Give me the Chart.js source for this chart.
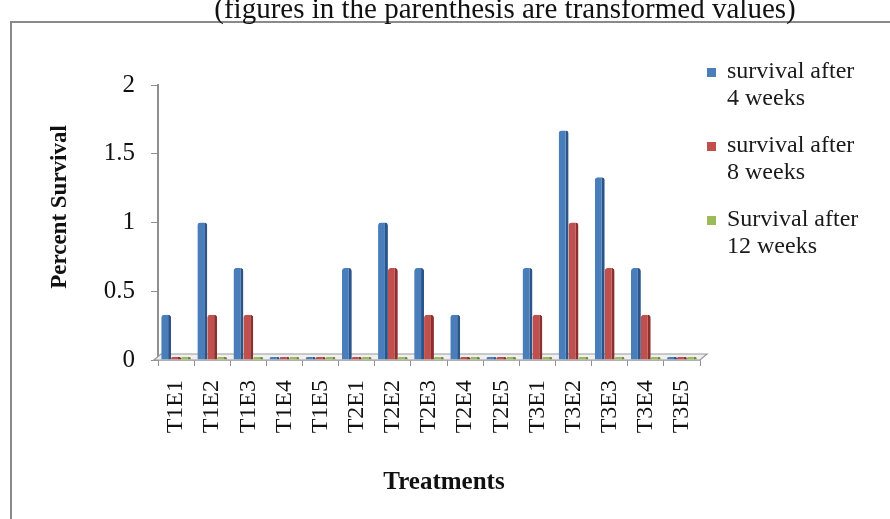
<!DOCTYPE html>
<html>
<head>
<meta charset="utf-8">
<script src="https://cdn.jsdelivr.net/npm/chart.js@4.4.1/dist/chart.umd.min.js"></script>
<style>
  html, body { margin: 0; padding: 0; background: #ffffff; }
  #wrap { width: 890px; height: 519px; position: relative; }
</style>
</head>
<body>
<div id="wrap"><canvas id="chart" width="890" height="519"></canvas></div>
<script>
// Treatment codes along the x axis
const categories = ['T1E1', 'T1E2', 'T1E3', 'T1E4', 'T1E5',
                    'T2E1', 'T2E2', 'T2E3', 'T2E4', 'T2E5',
                    'T3E1', 'T3E2', 'T3E3', 'T3E4', 'T3E5'];

// Percent survival (transformed values)
const survival4Weeks  = [0.33, 1, 0.67, 0, 0, 0.67, 1, 0.67, 0.33, 0, 0.67, 1.67, 1.33, 0.67, 0];
const survival8Weeks  = [0, 0.33, 0.33, 0, 0, 0, 0.67, 0.33, 0, 0, 0.33, 1, 0.67, 0.33, 0];
const survival12Weeks = [0, 0, 0, 0, 0, 0, 0, 0, 0, 0, 0, 0, 0, 0, 0];

// Legend entries, one line per array item
const seriesNames = [
  ['survival after', '4 weeks'],
  ['survival after', '8 weeks'],
  ['Survival after', '12 weeks']
];

const yTickValues = [0, 0.5, 1, 1.5, 2];

const chartTitle = '(figures in the parenthesis are transformed values)';
const xTitle = 'Treatments';
const yTitle = 'Percent Survival';

const SERIF = "'Liberation Serif', 'Times New Roman', serif";

const faceColors = ['#4a7ebb', '#c0504d', '#9bbb59'];
const sideColors = ['#2b5589', '#8c2f2d', '#6f8a3c'];

function barDataset(name, values, i) {
  return {
    label: name,
    data: values,
    backgroundColor: faceColors[i],
    borderColor: sideColors[i],
    borderWidth: { top: 0, left: 0, bottom: 0, right: 3 },
    borderSkipped: false,
    borderRadius: { topLeft: 3, topRight: 3, bottomLeft: 0, bottomRight: 0 },
    minBarLength: 3,
    categoryPercentage: 0.82,
    barPercentage: 1.0
  };
}

// Frame, partly cut title, axis titles, 3D-style floor and the wrapped legend
const decorations = {
  id: 'decorations',
  beforeDraw(chart) {
    const ctx = chart.ctx;
    ctx.save();
    ctx.fillStyle = '#ffffff';
    ctx.fillRect(0, 0, chart.width, chart.height);
    ctx.strokeStyle = '#8a8a8a';
    ctx.lineWidth = 2;
    ctx.strokeRect(11, 22, chart.width + 20, chart.height + 20);
    ctx.fillStyle = '#111111';
    ctx.font = `29px ${SERIF}`;
    ctx.textAlign = 'center';
    ctx.textBaseline = 'alphabetic';
    ctx.fillText(chartTitle, 505, 18);

    // axis titles
    ctx.font = `bold 25px ${SERIF}`;
    ctx.textBaseline = 'middle';
    ctx.fillText(xTitle, 444, 483);
    ctx.translate(60, 207);
    ctx.rotate(-Math.PI / 2);
    ctx.font = `bold 23px ${SERIF}`;
    ctx.fillText(yTitle, 0, 0);
    ctx.restore();
  },
  beforeDatasetsDraw(chart) {
    const { ctx, chartArea } = chart;
    const l = chartArea.left, r = chartArea.right, b = chartArea.bottom;
    ctx.save();
    ctx.beginPath();
    ctx.moveTo(l - 4, b);
    ctx.lineTo(r, b);
    ctx.lineTo(r + 7, b - 6);
    ctx.lineTo(l + 3, b - 6);
    ctx.closePath();
    ctx.fillStyle = '#f0f0f0';
    ctx.fill();
    ctx.strokeStyle = '#9a9a9a';
    ctx.lineWidth = 1.2;
    ctx.stroke();
    ctx.restore();
  },
  afterDraw(chart) {
    const ctx = chart.ctx;
    ctx.save();
    ctx.font = `24px ${SERIF}`;
    ctx.textAlign = 'left';
    ctx.textBaseline = 'middle';
    chart.data.datasets.forEach((ds, i) => {
      const y0 = 72 + i * 74;
      ctx.fillStyle = ds.backgroundColor;
      ctx.fillRect(707, y0 - 4, 9, 9);
      ctx.fillStyle = '#1a1a1a';
      ds.label.forEach((line, j) => {
        ctx.fillText(line, 727, y0 + j * 26.5);
      });
    });
    ctx.restore();
  }
};

new Chart(document.getElementById('chart'), {
  type: 'bar',
  data: {
    labels: categories,
    datasets: [
      barDataset(seriesNames[0], survival4Weeks, 0),
      barDataset(seriesNames[1], survival8Weeks, 1),
      barDataset(seriesNames[2], survival12Weeks, 2)
    ]
  },
  options: {
    responsive: false,
    animation: false,
    layout: { padding: { left: 0, top: 85, right: 190, bottom: 0 } },
    plugins: {
      legend: { display: false },
      title: { display: false },
      tooltip: { enabled: false }
    },
    scales: {
      x: {
        afterFit(scale) { scale.height = 159; },
        border: { display: true, color: '#8f8f8f', width: 1.5 },
        grid: { drawOnChartArea: false, drawTicks: true, tickLength: 6, color: '#8f8f8f', offset: true },
        ticks: {
          autoSkip: false,
          minRotation: 90,
          maxRotation: 90,
          padding: 14,
          color: '#111111',
          font: { family: SERIF, size: 24 }
        }
      },
      y: {
        min: 0,
        max: 2,
        afterFit(scale) { scale.width = 158; },
        afterBuildTicks(scale) { scale.ticks = yTickValues.map(v => ({ value: v })); },
        border: { display: true, color: '#8f8f8f', width: 2 },
        grid: { drawOnChartArea: false, drawTicks: true, tickLength: 7, color: '#8f8f8f' },
        ticks: {
          padding: 16,
          color: '#111111',
          font: { family: SERIF, size: 25 },
          callback: (value) => `${value}`
        }
      }
    }
  },
  plugins: [decorations]
});
</script>
</body>
</html>
